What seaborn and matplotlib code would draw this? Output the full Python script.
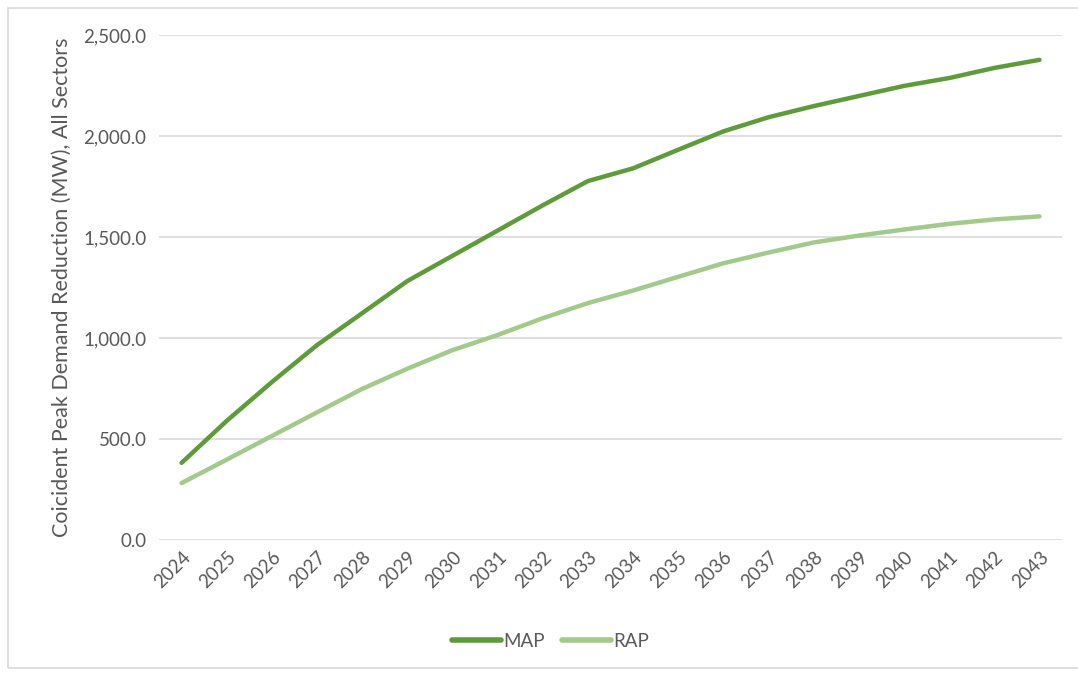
import numpy as np
import pandas as pd
import matplotlib
matplotlib.use("Agg")
import matplotlib.pyplot as plt
import seaborn as sns
from matplotlib.patches import Rectangle
from matplotlib.ticker import FuncFormatter

years = [str(y) for y in range(2024, 2044)]
map_vals = [382, 590, 782, 965, 1123, 1282, 1407, 1532, 1657, 1777,
            1840, 1932, 2023, 2093, 2148, 2198, 2248, 2287, 2337, 2377]
rap_vals = [282, 398, 515, 632, 748, 848, 940, 1015, 1098, 1173,
            1235, 1303, 1370, 1423, 1473, 1507, 1537, 1565, 1587, 1602]
series_names = ["MAP", "RAP"]
colors = {"MAP": "#5E9B3A", "RAP": "#A2CA8B"}

df = pd.DataFrame({
    "Year": years * 2,
    "Value": map_vals + rap_vals,
    "Series": [series_names[0]] * len(years) + [series_names[1]] * len(years),
})
df["x"] = list(range(len(years))) * 2

sns.set_theme(style="white")
plt.rcParams['font.family'] = ['Lato', 'DejaVu Sans']

fig = plt.figure(figsize=(10.78, 6.73), dpi=100)
ax = fig.add_axes([0.1475, 0.1976, 0.8377, 0.7504])

sns.lineplot(data=df, x="x", y="Value", hue="Series", palette=colors,
             linewidth=3.2, ax=ax, legend=False, solid_capstyle="round")

ax.set_xlim(-0.5, len(years) - 0.5)
ax.set_ylim(0, 2500)
ax.set_yticks(np.arange(0, 2501, 500))
ax.yaxis.set_major_formatter(FuncFormatter(lambda v, p: f"{v:,.1f}"))
ax.set_xticks(range(len(years)))
ax.set_xticklabels(years, rotation=45, ha="right", rotation_mode="anchor")
ax.tick_params(axis="both", length=0, labelsize=13.5, colors="#595959", pad=9)
ax.tick_params(axis="x", pad=6)
ax.grid(axis="y", color="#D9D9D9", linewidth=1.2)
ax.set_axisbelow(True)
for s in ax.spines.values():
    s.set_visible(False)
ax.set_xlabel("")
ax.set_ylabel("Coicident Peak Demand Reduction (MW), All Sectors",
              fontsize=15.5, color="#595959", labelpad=8)

handles = [plt.Line2D([], [], color=colors[n], linewidth=4, solid_capstyle="round") for n in series_names]
fig.legend(handles, series_names, loc="center", bbox_to_anchor=(0.511, 0.047),
           ncol=2, frameon=False, fontsize=13.5, handlelength=2.6,
           handletextpad=0.15, columnspacing=0.9, labelcolor="#595959")

fig.add_artist(Rectangle((8 / 1078, 5 / 673), 1075 / 1078, 660 / 673,
                         transform=fig.transFigure, fill=False,
                         edgecolor="#D9D9D9", linewidth=1.2))

fig.savefig("out.png", dpi=100)
